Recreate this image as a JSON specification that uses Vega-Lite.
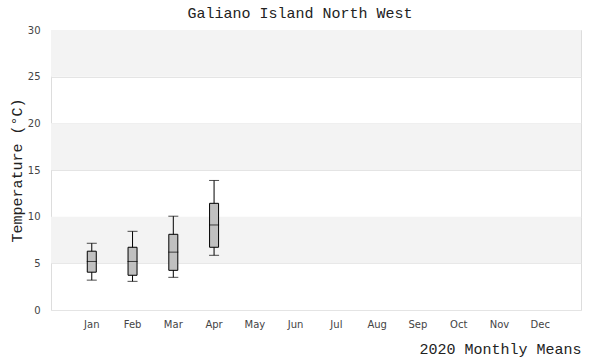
{
  "$schema": "https://vega.github.io/schema/vega-lite/v6.json",
  "width": 530,
  "height": 280,
  "autosize": {"type": "none"},
  "padding": {"left": 51, "top": 30, "right": 19, "bottom": 50},
  "background": "white",
  "title": {
    "text": "Galiano Island North West",
    "font": "Liberation Mono",
    "fontSize": 15,
    "fontWeight": "normal",
    "color": "#222",
    "anchor": "middle",
    "dx": -16,
    "offset": 4
  },
  "config": {
    "view": {"stroke": "#dddddd", "strokeWidth": 1},
    "axis": {"labelFont": "DejaVu Sans", "labelFontSize": 10, "labelColor": "#444", "titleFont": "Liberation Mono", "titleFontSize": 15, "titleFontWeight": "normal", "titleColor": "#222"}
  },
  "datasets": {
    "stats": [
      {"month": "Jan", "lower": 3.2, "q1": 4.05, "median": 5.2, "q3": 6.3, "upper": 7.15},
      {"month": "Feb", "lower": 3.07, "q1": 3.72, "median": 5.2, "q3": 6.72, "upper": 8.43},
      {"month": "Mar", "lower": 3.5, "q1": 4.25, "median": 6.2, "q3": 8.11, "upper": 10.05},
      {"month": "Apr", "lower": 5.86, "q1": 6.72, "median": 9.11, "q3": 11.43, "upper": 13.88}
    ],
    "bands": [
      {"from": 25, "to": 30},
      {"from": 15, "to": 20},
      {"from": 5, "to": 10}
    ]
  },
  "layer": [
    {
      "data": {"name": "bands"},
      "mark": {"type": "rect", "color": "#f3f3f3"},
      "encoding": {
        "x": {"value": 0},
        "x2": {"value": "width"},
        "y": {"field": "from", "type": "quantitative"},
        "y2": {"field": "to"}
      }
    },
    {
      "data": {"name": "stats"},
      "layer": [
        {
          "mark": {"type": "rule", "color": "black", "strokeWidth": 1},
          "encoding": {
            "x": {"field": "month", "type": "ordinal"},
            "y": {"field": "lower", "type": "quantitative"},
            "y2": {"field": "upper"}
          }
        },
        {
          "mark": {"type": "bar", "width": 9, "color": "#c0c0c0", "stroke": "black", "strokeWidth": 1},
          "encoding": {
            "x": {"field": "month", "type": "ordinal"},
            "y": {"field": "q1", "type": "quantitative"},
            "y2": {"field": "q3"}
          }
        },
        {
          "mark": {"type": "tick", "color": "black", "size": 10, "thickness": 1},
          "encoding": {
            "x": {"field": "month", "type": "ordinal"},
            "y": {"field": "median", "type": "quantitative"}
          }
        },
        {
          "mark": {"type": "tick", "color": "black", "size": 10, "thickness": 1},
          "encoding": {
            "x": {"field": "month", "type": "ordinal"},
            "y": {"field": "lower", "type": "quantitative"}
          }
        },
        {
          "mark": {"type": "tick", "color": "black", "size": 10, "thickness": 1},
          "encoding": {
            "x": {"field": "month", "type": "ordinal"},
            "y": {"field": "upper", "type": "quantitative"}
          }
        }
      ]
    }
  ],
  "encoding": {
    "x": {
      "field": "month",
      "type": "ordinal",
      "scale": {"domain": ["Jan","Feb","Mar","Apr","May","Jun","Jul","Aug","Sep","Oct","Nov","Dec"], "paddingInner": 0, "paddingOuter": 0.5},
      "axis": {"title": "2020 Monthly Means", "labelAngle": 0, "ticks": false, "domain": false, "labelPadding": 9, "titleAnchor": "end", "titleAlign": "right", "titlePadding": 12}
    },
    "y": {
      "type": "quantitative",
      "scale": {"domain": [0, 30], "nice": false},
      "axis": {"title": "Temperature (°C)", "values": [0,5,10,15,20,25,30], "ticks": false, "domain": false, "labelPadding": 11, "gridColor": "#e4e4e4", "titlePadding": 3}
    }
  }
}
